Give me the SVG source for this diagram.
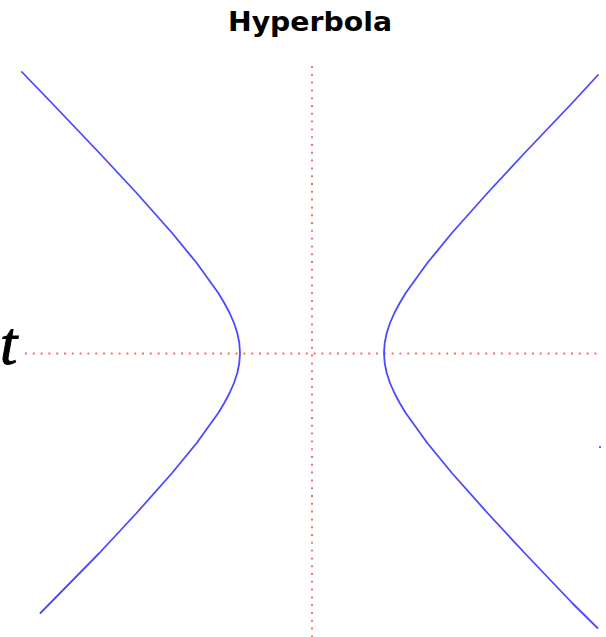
<svg xmlns="http://www.w3.org/2000/svg" width="606" height="637" viewBox="0 0 606 637">
<style>
.axis{stroke:#ff6b6b;stroke-width:2;stroke-dasharray:2 5.8;fill:none}
.curve{stroke:#4a4aff;stroke-width:1.8;fill:none;stroke-linejoin:round;stroke-linecap:round}
</style>
<rect width="606" height="637" fill="#ffffff"/>
<text x="310" y="31" text-anchor="middle" font-family="DejaVu Sans, sans-serif" font-weight="bold" font-size="27" textLength="164" lengthAdjust="spacingAndGlyphs" fill="#000">Hyperbola</text>
<g id="axes">
<line class="axis" x1="25" y1="353.5" x2="602" y2="353.5"/>
<line class="axis" x1="312" y1="66" x2="312" y2="637"/>
</g>
<g id="left-branch">
<polyline class="curve" points="21.9,72 51.8,103 99.4,153 136.6,193 172.1,233 196.7,263 218.3,293 224.3,303 229.6,313 234,323 237.3,333 239.3,343 240,353 239.3,363 237.3,373 234,383 229.6,393 224.3,403 218.3,413 196.7,443 172.1,473 136.6,513 99.4,553 40.5,613"/>
</g>
<g id="right-branch">
<polyline class="curve" points="598,75 572.2,103 524.6,153 487.5,193 451.9,233 427.3,263 405.7,293 399.7,303 394.4,313 390,323 386.7,333 384.7,343 384,353 384.7,363 386.7,373 390,383 394.4,393 399.7,403 405.7,413 427.3,443 451.9,473 487.5,513 524.6,553 572.2,603 597.5,628"/>
</g>
<rect x="599" y="446" width="2" height="2" fill="#6666ff"/>
<text x="0" y="364" font-family="Liberation Serif, serif" font-style="italic" font-size="62" fill="#000" stroke="#000" stroke-width="1">t</text>
</svg>
